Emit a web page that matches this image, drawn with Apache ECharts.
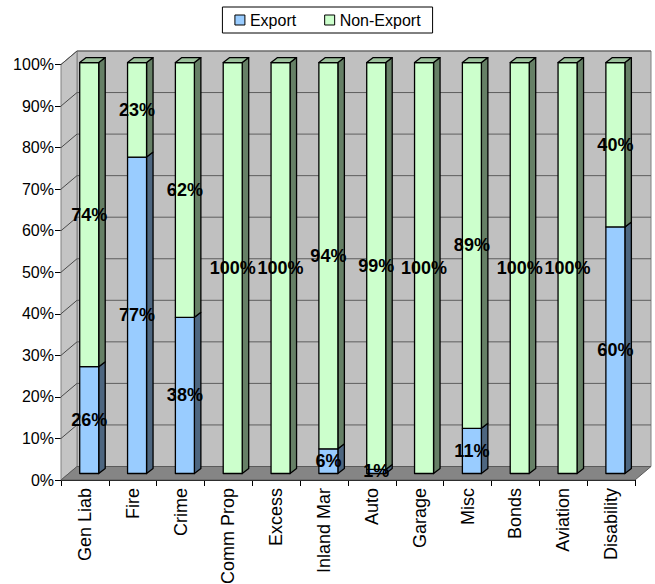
<!DOCTYPE html>
<html>
<head>
<meta charset="utf-8">
<script src="https://cdn.jsdelivr.net/npm/echarts@6/dist/echarts.min.js"></script>
<style>
  html, body { margin: 0; padding: 0; background: #ffffff; }
  #chart { width: 655px; height: 584px; }
</style>
</head>
<body>
<div id="chart"></div>
<script>
// Share of each line of business written as export vs. non-export business (%)
const categories = ['Gen Liab', 'Fire', 'Crime', 'Comm Prop', 'Excess', 'Inland Mar', 'Auto', 'Garage', 'Misc', 'Bonds', 'Aviation', 'Disability'];
const exportShare = [26, 77, 38, 0, 0, 6, 1, 0, 11, 0, 0, 60];
const nonExportShare = [74, 23, 62, 100, 100, 94, 99, 100, 89, 100, 100, 40];
const yTicks = [0, 10, 20, 30, 40, 50, 60, 70, 80, 90, 100];
const seriesNames = ['Export', 'Non-Export'];

const FONT = '"Liberation Sans", Arial, Helvetica, sans-serif';

// 3D look: depth of the walls/floor and of each bar, in pixels
const WALL_DEPTH = [16, -13.5];
const BAR_DEPTH = [6.5, -5];
const BAR_W = 19;
const BAR_SHIFT = 4.3;

const palette = {
  Export: { front: '#99CCFF', side: '#4D6680', top: '#7AA3CC' },
  'Non-Export': { front: '#CCFFCC', side: '#668066', top: '#9CC29C' }
};

// Bars sit a little behind the front plane, so they are slightly raised
function barY(cs, yFront) {
  const y0 = cs.y + cs.height;
  return y0 - 6.5 - (y0 - yFront) * 0.989;
}

// Back wall, side wall, floor and their gridlines
function renderFrame(params, api) {
  const cs = params.coordSys;
  const x0 = cs.x, x1 = cs.x + cs.width;
  const yt = cs.y, yb = cs.y + cs.height;
  const dx = WALL_DEPTH[0], dy = WALL_DEPTH[1];
  const children = [
    { type: 'polygon', shape: { points: [[x0 + dx, yt + dy], [x1 + dx, yt + dy], [x1 + dx, yb + dy], [x0 + dx, yb + dy]] },
      style: { fill: '#C0C0C0', stroke: '#808080', lineWidth: 1 } },
    { type: 'polygon', shape: { points: [[x0, yt], [x0 + dx, yt + dy], [x0 + dx, yb + dy], [x0, yb]] },
      style: { fill: '#C4C4C4', stroke: '#808080', lineWidth: 1 } },
    { type: 'polygon', shape: { points: [[x0, yb], [x0 + dx, yb + dy], [x1 + dx, yb + dy], [x1, yb]] },
      style: { fill: '#858585', stroke: '#5A5A5A', lineWidth: 1 } }
  ];
  yTicks.forEach(function (v) {
    if (v === 0) return;
    const y = api.coord([0, v])[1];
    children.push({ type: 'line', shape: { x1: x0, y1: y, x2: x0 + dx, y2: y + dy },
      style: { stroke: '#4A4A4A', lineWidth: 1 } });
    children.push({ type: 'line', shape: { x1: x0 + dx, y1: y + dy, x2: x1 + dx, y2: y + dy },
      style: { stroke: '#5E5E5E', lineWidth: 1 } });
  });
  return { type: 'group', children: children };
}

function makeBarRenderer(name, drawTop) {
  const col = palette[name];
  return function (params, api) {
    const i = api.value(0), lo = api.value(1), hi = api.value(2);
    if (hi - lo <= 0) return null;
    const cs = params.coordSys;
    const pLo = api.coord([i, lo]);
    const pHi = api.coord([i, hi]);
    const xl = pLo[0] + BAR_SHIFT - BAR_W / 2;
    const xr = xl + BAR_W;
    const yl = barY(cs, pLo[1]);
    const yh = barY(cs, pHi[1]);
    const bx = BAR_DEPTH[0], by = BAR_DEPTH[1];
    const edge = { stroke: '#000000', lineWidth: 1.3, lineJoin: 'round' };
    const children = [
      { type: 'polygon', shape: { points: [[xr, yh], [xr + bx, yh + by], [xr + bx, yl + by], [xr, yl]] },
        style: Object.assign({ fill: col.side }, edge) },
      { type: 'polygon', shape: { points: [[xl, yh], [xr, yh], [xr, yl], [xl, yl]] },
        style: Object.assign({ fill: col.front }, edge) }
    ];
    if (drawTop) {
      children.push({ type: 'polygon', shape: { points: [[xl, yh], [xl + bx, yh + by], [xr + bx, yh + by], [xr, yh]] },
        style: Object.assign({ fill: col.top }, edge) });
    }
    children.push({
      type: 'text', z2: 100,
      x: (xl + xr) / 2, y: (yl + yh) / 2,
      style: { text: (hi - lo) + '%', fill: '#000000', font: 'bold 18px ' + FONT, align: 'center', verticalAlign: 'middle' }
    });
    return { type: 'group', children: children };
  };
}

const exportData = categories.map(function (c, i) { return [i, 0, exportShare[i]]; });
const nonExportData = categories.map(function (c, i) { return [i, exportShare[i], exportShare[i] + nonExportShare[i]]; });

const chart = echarts.init(document.getElementById('chart'), null, { renderer: 'svg' });
chart.setOption({
  backgroundColor: '#ffffff',
  animation: false,
  textStyle: { fontFamily: FONT },
  legend: {
    data: seriesNames,
    left: 'center',
    top: 7,
    icon: 'rect',
    itemWidth: 10,
    itemHeight: 10,
    itemGap: 28,
    itemStyle: { borderColor: '#000000', borderWidth: 1 },
    textStyle: { fontSize: 16, color: '#000000', fontFamily: FONT },
    borderColor: '#000000',
    borderWidth: 1,
    padding: [5, 12, 5, 12]
  },
  grid: { left: 61, right: 20, top: 64.5, bottom: 104, containLabel: false, outerBoundsMode: 'none' },
  xAxis: {
    type: 'category',
    data: categories,
    boundaryGap: true,
    axisLine: { show: true, lineStyle: { color: '#000000', width: 1 } },
    axisTick: { show: true, length: 6, lineStyle: { color: '#000000' } },
    axisLabel: { rotate: 90, margin: 8, fontSize: 18, color: '#000000', fontFamily: FONT, interval: 0 },
    splitLine: { show: false }
  },
  yAxis: {
    type: 'value',
    min: 0,
    max: 100,
    interval: 10,
    axisLine: { show: true, lineStyle: { color: '#000000', width: 1 } },
    axisTick: { show: true, length: 6, lineStyle: { color: '#000000' } },
    axisLabel: { formatter: '{value}%', margin: 7, fontSize: 16, color: '#000000', fontFamily: FONT },
    splitLine: { show: false }
  },
  series: [
    { type: 'custom', name: 'frame', z: 1, silent: true, renderItem: renderFrame, data: [[0, 0, 0]],
      encode: { x: 0, y: 1 } },
    { type: 'custom', name: 'Export', z: 3, renderItem: makeBarRenderer('Export', false), data: exportData,
      encode: { x: 0, y: [1, 2] }, itemStyle: { color: palette.Export.front, borderColor: '#000000', borderWidth: 1 } },
    { type: 'custom', name: 'Non-Export', z: 3, renderItem: makeBarRenderer('Non-Export', true), data: nonExportData,
      encode: { x: 0, y: [1, 2] }, itemStyle: { color: palette['Non-Export'].front, borderColor: '#000000', borderWidth: 1 } }
  ]
});
</script>
</body>
</html>
